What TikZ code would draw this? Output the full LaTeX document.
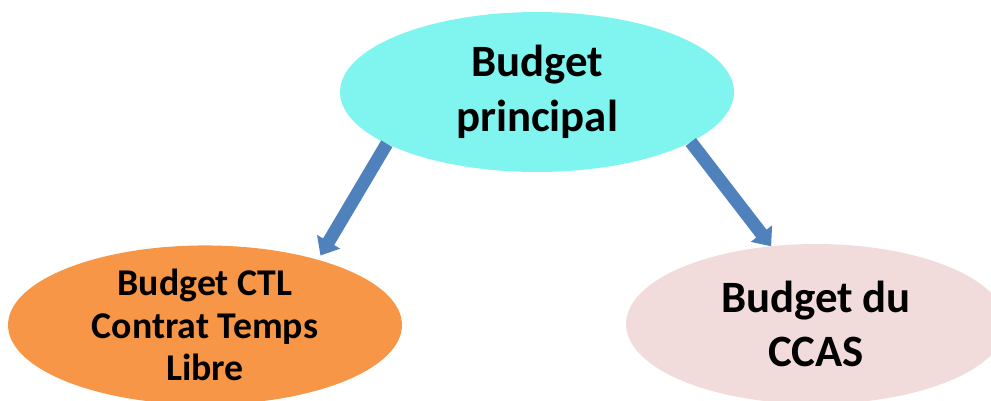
\documentclass[tikz,border=0pt]{standalone}
\usepackage{fontspec}
\setmainfont{Carlito}
\usetikzlibrary{shapes.geometric, arrows.meta}

\definecolor{princcyan}{RGB}{128,245,240}
\definecolor{ctlorange}{RGB}{247,150,70}
\definecolor{ccaspink}{RGB}{242,220,219}
\definecolor{flowblue}{RGB}{79,129,189}

\begin{document}
\begin{tikzpicture}[x=0.02cm, y=-0.02cm,
    bubble/.style={ellipse, inner sep=0pt, outer sep=0pt, align=center, text=black},
    bigtext/.style={font=\fontsize{25.5}{31}\selectfont\bfseries},
    flow/.style={draw=flowblue, line width=0.26cm,
      -{Triangle[width=0.52cm, length=0.32cm]}}]
      \useasboundingbox (0, 0) rectangle (991, 400);
      \clip (0, 0) rectangle (991, 400);

      \node[bubble, bigtext, fill=princcyan, minimum width=7.88cm, minimum height=3.2cm]
        (princ) at (537, 92) {Budget\\principal};
      \node[bubble, fill=ctlorange, minimum width=7.88cm, minimum height=3.12cm,
        font=\fontsize{21.5}{24.4}\selectfont\bfseries]
        (ctl) at (205, 325) {Budget CTL\\Contrat Temps\\Libre};
      \node[bubble, bigtext, fill=ccaspink, minimum width=7.6cm, minimum height=3.2cm]
        (ccas) at (816, 324) {Budget du\\CCAS};

      % arrows from the main budget
      \draw[flow, shorten >=0.1cm] (princ.199) -- (ctl.30);
      \draw[flow] (princ.342) -- (ccas.120);
\end{tikzpicture}
\end{document}
